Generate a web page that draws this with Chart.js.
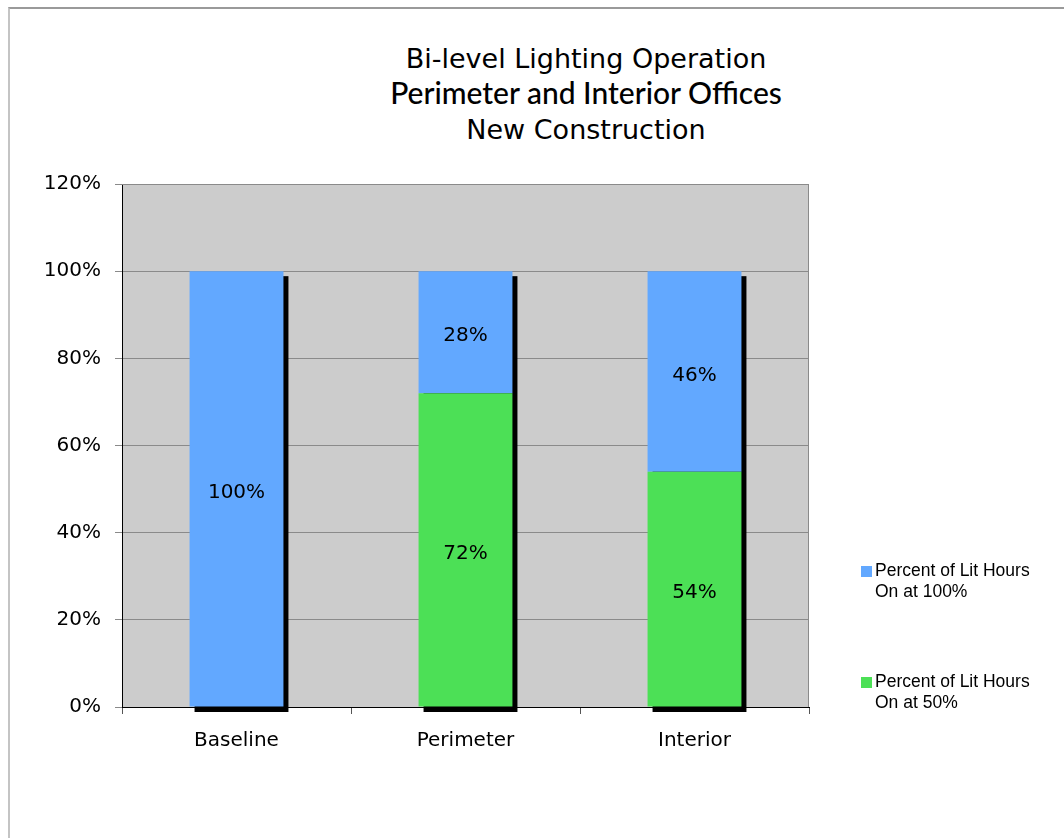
<!DOCTYPE html>
<html>
<head>
<meta charset="utf-8">
<script src="https://cdn.jsdelivr.net/npm/chart.js@4.4.1/dist/chart.umd.min.js"></script>
<style>
  body { margin:0; background:#fff; }
  #wrap { position:relative; width:1064px; height:838px; overflow:hidden; }
  #frame { position:absolute; left:8px; top:7px; width:1100px; height:900px;
           border-top:2px solid #9a9a9a; border-left:2px solid #c4c4c4; }
  #chart { position:absolute; left:0; top:0; }
  .ttl { position:absolute; left:336px; width:500px; text-align:center; color:#000; white-space:nowrap; }
  #t1 { top:43px; font:27px "DejaVu Sans", sans-serif; }
  #t2 { top:74px; font:500 30px Lato, sans-serif; }
  #t3 { top:114px; font:27px "DejaVu Sans", sans-serif; }
  #legend { position:absolute; left:861px; top:560px; font:17.5px "Liberation Sans", Arial, sans-serif; color:#000; }
  .item { position:absolute; left:0; white-space:pre-line; line-height:21px; padding-left:14px; width:195px; }
  .box { position:absolute; left:0; top:6px; width:11px; height:11px; }
</style>
</head>
<body>
<div id="wrap">
  <div id="frame"></div>
  <div class="ttl" id="t1">Bi-level Lighting Operation</div>
  <div class="ttl" id="t2">Perimeter and Interior Offices</div>
  <div class="ttl" id="t3">New Construction</div>
  <canvas id="chart" width="1064" height="838"></canvas>
  <div id="legend"></div>
</div>
<script>
// categories and stacked series (percent of lit hours)
const categories = ['Baseline', 'Perimeter', 'Interior'];
const litAt50  = [0, 72, 54];
const litAt100 = [100, 28, 46];
const seriesNames = ['Percent of Lit Hours\nOn at 50%', 'Percent of Lit Hours\nOn at 100%'];
const seriesColors = ['#4ce056', '#62a8ff'];
const yTicks = [0, 20, 40, 60, 80, 100, 120];

const FONT = { family:'"DejaVu Sans", sans-serif', size:20 };

// grey plot panel behind the grid
const panelBg = {
  id:'panelBg',
  beforeDraw(chart) {
    const {ctx, chartArea:a} = chart;
    ctx.save();
    ctx.fillStyle = '#cccccc';
    ctx.fillRect(a.left, a.top, a.right - a.left, a.bottom - a.top);
    ctx.restore();
  },
  afterDraw(chart) {
    const {ctx, chartArea:a} = chart;
    ctx.save();
    ctx.strokeStyle = '#8a8a8a';
    ctx.lineWidth = 1;
    ctx.beginPath();
    ctx.moveTo(a.left, a.top + 0.5); ctx.lineTo(a.right - 0.5, a.top + 0.5); ctx.lineTo(a.right - 0.5, a.bottom);
    ctx.stroke();
    ctx.restore();
  }
};

// solid black drop shadow under each whole stack, value labels on top
const stackShadow = {
  id:'stackShadow',
  beforeDatasetsDraw(chart) {
    const {ctx} = chart;
    const y = chart.scales.y;
    const meta = chart.getDatasetMeta(0);
    ctx.save();
    ctx.fillStyle = '#000';
    meta.data.forEach((bar, i) => {
      const total = chart.data.datasets.reduce((s, d) => s + d.data[i], 0);
      const top = y.getPixelForValue(total), bottom = y.getPixelForValue(0);
      const w = bar.width;
      ctx.fillRect(bar.x - w / 2 + 5, top + 5, w, bottom - top);
    });
    ctx.restore();
  },
  afterDatasetsDraw(chart) {
    const {ctx} = chart;
    ctx.save();
    ctx.font = `${FONT.size}px ${FONT.family}`;
    ctx.fillStyle = '#000';
    ctx.textAlign = 'center';
    ctx.textBaseline = 'middle';
    chart.data.datasets.forEach((ds, di) => {
      chart.getDatasetMeta(di).data.forEach((bar, i) => {
        const v = ds.data[i];
        if (!v) return;
        ctx.fillText(v + '%', bar.x, (bar.y + bar.base) / 2 + 4);
      });
    });
    ctx.restore();
  }
};

new Chart(document.getElementById('chart'), {
  type:'bar',
  data:{
    labels:categories,
    datasets:[
      { label:seriesNames[0], data:litAt50, backgroundColor:seriesColors[0] },
      { label:seriesNames[1], data:litAt100, backgroundColor:seriesColors[1] },
    ]
  },
  options:{
    responsive:false, animation:false,
    layout:{ padding:{ left:0, top:184, right:255, bottom:71 } },
    datasets:{ bar:{ categoryPercentage:1, barPercentage:0.41, borderWidth:0 } },
    plugins:{ legend:{display:false}, tooltip:{enabled:false}, title:{display:false} },
    scales:{
      x:{
        stacked:true, z:1,
        afterFit:s => { s.height = 60; },
        grid:{ offset:true, drawOnChartArea:false, drawTicks:true, tickLength:7, color:'#555' },
        border:{ color:'#000', width:1 },
        ticks:{ color:'#000', font:FONT, padding:15 }
      },
      y:{
        stacked:true, min:0, max:120,
        afterFit:s => { s.width = 122; },
        afterBuildTicks:s => { s.ticks = yTicks.map(v => ({value:v})); },
        grid:{ color:'#8a8a8a', tickLength:7 },
        border:{ color:'#000', width:1 },
        ticks:{ color:'#000', font:FONT, padding:14, callback:v => v + '%' }
      }
    }
  },
  plugins:[panelBg, stackShadow]
});

// legend: top series first
const leg = document.getElementById('legend');
[1, 0].forEach((di, k) => {
  const el = document.createElement('div');
  el.className = 'item';
  el.style.top = (k * 111) + 'px';
  el.innerHTML = `<span class="box" style="background:${seriesColors[di]}"></span>${seriesNames[di]}`;
  leg.appendChild(el);
});
</script>
</body>
</html>
